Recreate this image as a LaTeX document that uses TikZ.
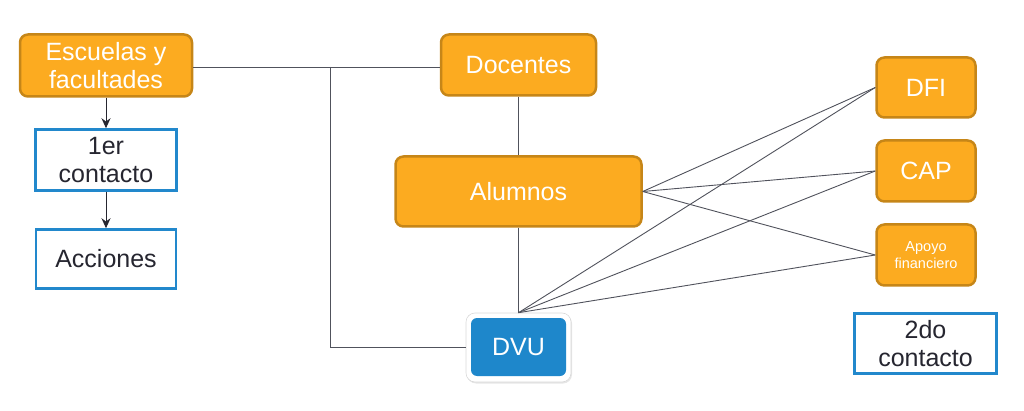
\documentclass[tikz,border=0pt]{standalone}
\usepackage{fontspec}
\setmainfont{Liberation Sans}
\usetikzlibrary{arrows.meta,shadows}
\definecolor{orfill}{RGB}{252,171,32}
\definecolor{ordraw}{RGB}{198,134,24}
\definecolor{bluedraw}{RGB}{34,136,204}
\definecolor{dvufill}{RGB}{30,135,203}
\definecolor{txtc}{RGB}{38,38,48}
\definecolor{connc}{RGB}{80,82,92}
\begin{document}
\begin{tikzpicture}[x=1pt,y=-1pt,
  obox/.style={draw=ordraw, fill=orfill, line width=2.5pt, rounded corners=8pt, text=white,
    font=\fontsize{25}{28}\selectfont, align=center, inner sep=0pt},
  bbox/.style={draw=bluedraw, fill=white, line width=2.5pt, text=txtc,
    font=\fontsize{25}{28}\selectfont, align=center, inner sep=0pt},
  link/.style={draw=connc, line width=0.9pt},
  arr/.style={draw=txtc, line width=1pt, -{Stealth[length=10pt,width=9pt]}}
]
\useasboundingbox (0,0) rectangle (1024,411);

\node[obox, minimum width=172pt, minimum height=62pt] (esc) at (106,65.5) {Escuelas y\\facultades};
\node[bbox, minimum width=141pt, minimum height=61pt] (c1) at (106,160) {1er\\contacto};
\node[bbox, minimum width=140pt, minimum height=59pt] (acc) at (106,259) {Acciones};

\node[obox, minimum width=155pt, minimum height=61pt] (doc) at (518.5,65) {Docentes};
\node[obox, minimum width=246pt, minimum height=70pt] (alu) at (518.5,191.5) {Alumnos};

\node[draw=black!15, fill=white, line width=0.6pt, rounded corners=9pt,
  minimum width=105pt, minimum height=69pt,
  drop shadow={opacity=0.2, shadow xshift=1pt, shadow yshift=-1.5pt}] (dvuh) at (518.5,347.5) {};
\node[fill=dvufill, rounded corners=6pt, minimum width=95pt, minimum height=58pt, inner sep=0pt,
  text=white, font=\fontsize{25}{28}\selectfont] (dvu) at (518.5,347) {DVU};

\node[obox, minimum width=99pt, minimum height=60pt] (dfi) at (926,87.5) {DFI};
\node[obox, minimum width=99pt, minimum height=61pt] (cap) at (926,171) {CAP};
\node[obox, minimum width=99pt, minimum height=61pt, font=\fontsize{14.5}{17}\selectfont] (apo) at (926,255) {Apoyo\\financiero};

\node[bbox, minimum width=142pt, minimum height=60pt] (c2) at (925.5,343.5) {2do\\contacto};

% connectors
\draw[arr] (esc.south) -- (c1.north);
\draw[arr] (c1.south) -- (acc.north);

\coordinate (j) at (330,67);
\draw[link] (esc.east |- j) -- (doc.west |- j);
\draw[link] (j) |- (dvuh.west);

\draw[link] (doc.south) -- (alu.north);
\draw[link] (alu.south) -- (dvuh.north);

\draw[link] (alu.east) -- (dfi.west);
\draw[link] (alu.east) -- (cap.west);
\draw[link] (alu.east) -- (apo.west);
\draw[link] (dvuh.north) -- (dfi.west);
\draw[link] (dvuh.north) -- (cap.west);
\draw[link] (dvuh.north) -- (apo.west);
\end{tikzpicture}
\end{document}
